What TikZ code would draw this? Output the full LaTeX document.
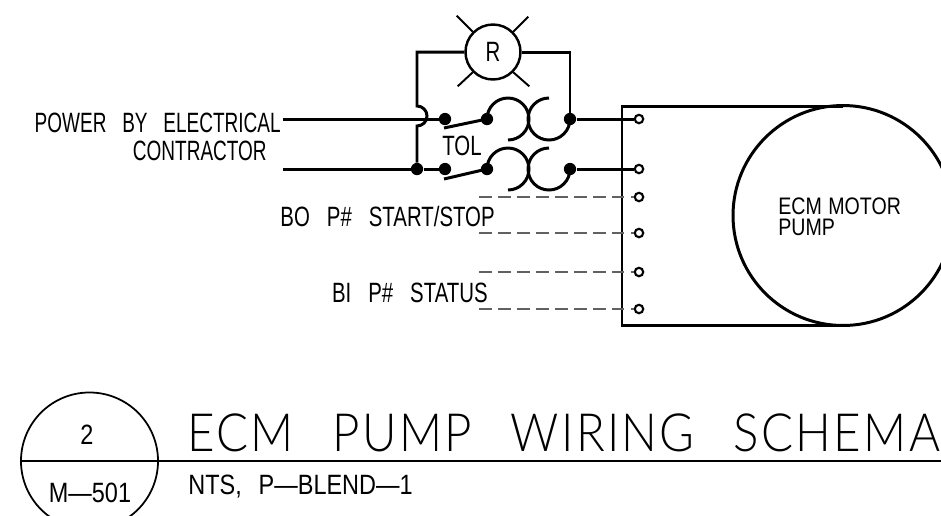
\documentclass[tikz,border=0pt]{standalone}
\usepackage{fontspec}
\setmainfont{Liberation Sans}
\newfontfamily\cadfont[FakeStretch=0.73,WordSpace=3]{Liberation Sans}
\newfontfamily\cadnarrow[FakeStretch=0.68,WordSpace=3]{Liberation Sans}
\newfontfamily\cadmotor[FakeStretch=0.82,WordSpace=1.2]{Liberation Sans}
\newfontfamily\cadwide[FakeStretch=0.84,WordSpace=2.6]{Liberation Sans}
\newfontfamily\cadtitle[FakeStretch=0.9,LetterSpace=4.4,WordSpace=2.55]{Lato Light}
\usepackage{tikz}
\tikzset{
  wire/.style={line width=1.7pt},
  thinwire/.style={line width=1pt},
  signal/.style={line width=0.8pt,black!62,dash pattern=on 7.2pt off 3.6pt},
  dot/.style={circle,fill=black,inner sep=0pt,minimum size=7pt},
  terminal/.style={circle,draw=black,fill=white,line width=1.2pt,inner sep=0pt,minimum size=4.8pt},
  label/.style={inner sep=0pt,font=\cadfont\fontsize{15.9}{16}\selectfont},
  narrowlabel/.style={inner sep=0pt,font=\cadnarrow\fontsize{15.9}{16}\selectfont},
  motorlabel/.style={inner sep=0pt,font=\cadmotor\fontsize{13.6}{14}\selectfont},
  widelabel/.style={inner sep=0pt,font=\cadwide\fontsize{15.9}{16}\selectfont},
}

\begin{document}
\begin{tikzpicture}[x=0.02cm,y=-0.02cm]
\clip (0,0) rectangle (941,515);
\useasboundingbox (0,0) rectangle (941,515);

% Relay lamp
\node[circle,draw,line width=1.4pt,minimum size=31.3pt,inner sep=0pt,label] (lamp) at (493,52) {R};
\foreach \ang/\dx/\dy in {45/15/-15,135/-16/-16,225/-15/14,315/16/14} {
  \draw[line width=1.1pt] (lamp.\ang) -- ++(\dx,\dy);
}

% Overload contacts
\node[dot] (upin) at (445,119) {};
\node[dot] (upsw) at (487,119) {};
\node[dot] (upout) at (570,119) {};
\node[dot] (lowjoin) at (417,169) {};
\node[dot] (lowin) at (445,169) {};
\node[dot] (lowsw) at (487,169) {};
\node[dot] (lowout) at (570,169) {};
\coordinate (upblade) at (444,128);
\coordinate (lowblade) at (444,179);
\draw[wire] (upblade) -- (upsw.center);
\draw[wire] (lowblade) -- (lowsw.center);
\draw[wire] (upsw.center) arc[start angle=180,end angle=450,radius=21];
\draw[wire] (upout.center) arc[start angle=0,end angle=270,radius=21];
\draw[wire] (lowsw.center) arc[start angle=180,end angle=450,radius=21];
\draw[wire] (lowout.center) arc[start angle=0,end angle=270,radius=21];
\node[label,anchor=base west] (tol) at (442,155) {TOL};

% Motor
\coordinate (boxtop) at (843,106);
\coordinate (boxbot) at (843,325);
\coordinate (boxnw) at (622,106);
\coordinate (boxsw) at (622,325);
\draw[wire] (boxtop) -- (boxnw) -- (boxsw) -- (boxbot);
\node[circle,draw,wire,minimum size=125.2pt,inner sep=0pt] (motor) at (843,215.5) {};
\node[motorlabel,anchor=base west] (motora) at (778,214) {ECM MOTOR};
\node[motorlabel,anchor=base west] (motorb) at (778,235) {PUMP};

% Terminals
\node[terminal] (ta) at (639,119) {};
\node[terminal] (tb) at (639,169) {};
\node[terminal] (tc) at (639,197) {};
\node[terminal] (td) at (639,233) {};
\node[terminal] (te) at (639,272) {};
\node[terminal] (tf) at (639,309) {};

% Power feed
\coordinate (feeda) at (283,119);
\coordinate (feedb) at (283,169);
\node[narrowlabel,anchor=base east] (power) at (281,132) {POWER BY ELECTRICAL};
\node[narrowlabel,anchor=base east] (contractor) at (267,160) {CONTRACTOR};
\draw[wire] (feeda) -- (upin);
\draw[wire] (feedb) -- (lowjoin) -- (lowin);
\draw[wire] (upout) -- (ta);
\draw[wire] (lowout) -- (tb);

% Lamp wiring with jump
\coordinate (jumptop) at (417,106);
\draw[wire] (lamp.west) -| (jumptop) arc[start angle=270,end angle=450,radius=10] -- (lowjoin);
\draw[wire] (lamp.east) -| (upout);

% Control wiring
\coordinate (sc) at (479,197);
\coordinate (sd) at (479,233);
\coordinate (se) at (479,272);
\coordinate (sf) at (479,309);
\draw[signal] (sc) -- (tc);
\draw[signal] (sd) -- (td);
\draw[signal] (se) -- (te);
\draw[signal] (sf) -- (tf);
\node[label,anchor=base east] (bolabel) at (495,226) {BO P\# START/STOP};
\node[label,anchor=base east] (bilabel) at (488,302) {BI P\# STATUS};

% Title block
\node[circle,draw,thinwire,minimum size=78pt,inner sep=0pt] (bubble) at (89.5,461) {};
\coordinate (ruleend) at (941,461);
\draw[thinwire] (bubble.west) -- (ruleend);
\node[widelabel] (detail) at (87,435) {2};
\node[widelabel,anchor=base] (sheet) at (90,502) {M—501};
\node[inner sep=0pt,anchor=base west,font=\cadtitle\fontsize{30}{32}\selectfont] (title) at (187,451) {ECM PUMP WIRING SCHEMA};
\node[widelabel,anchor=base west] (scale) at (188,494) {NTS, P—BLEND—1};
\end{tikzpicture}
\end{document}
